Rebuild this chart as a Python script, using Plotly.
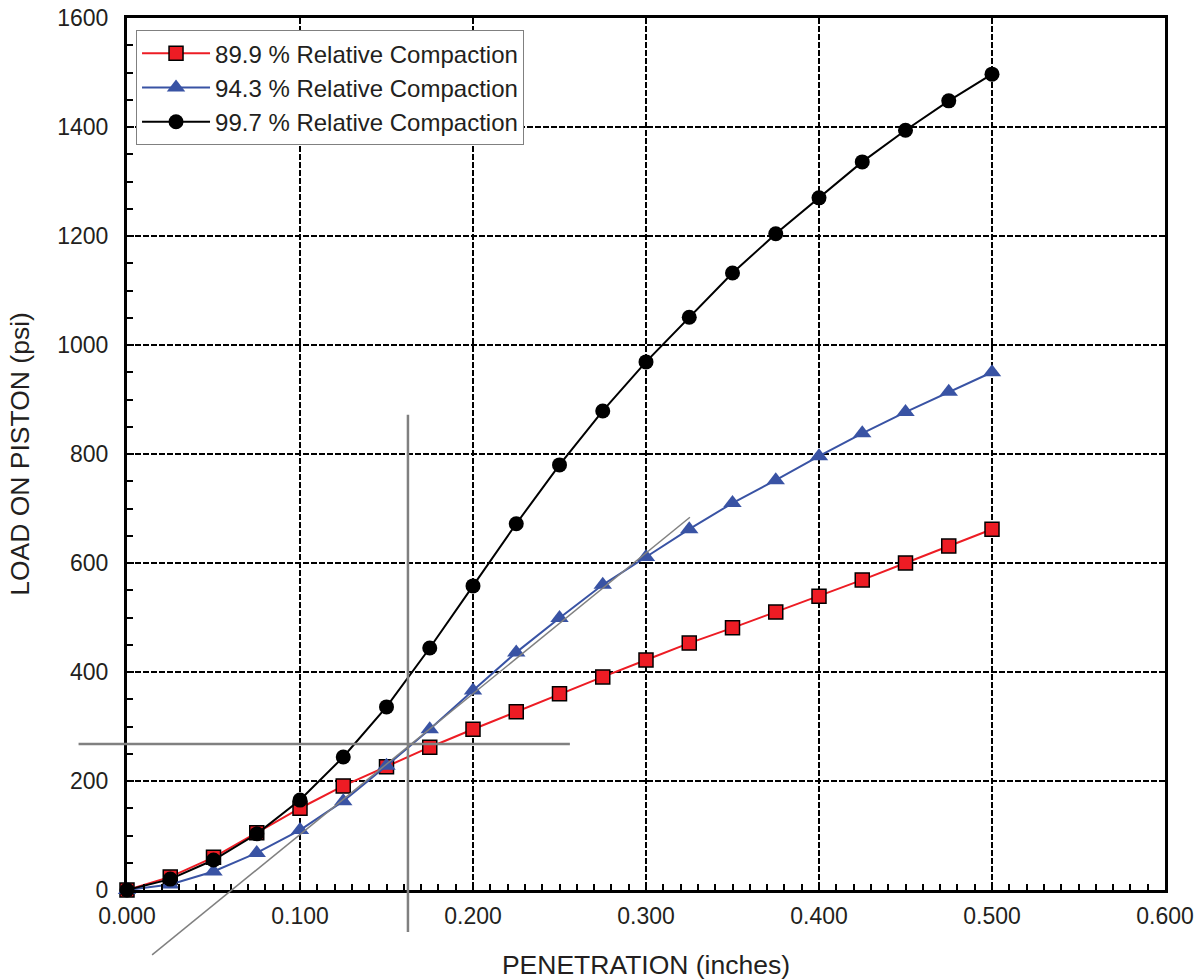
import plotly.graph_objects as go

penetration = [0.000, 0.025, 0.050, 0.075, 0.100, 0.125, 0.150, 0.175, 0.200, 0.225, 0.250,
               0.275, 0.300, 0.325, 0.350, 0.375, 0.400, 0.425, 0.450, 0.475, 0.500]
load_899 = [0, 24, 60, 105, 150, 191, 226, 262, 295, 327, 360,
            391, 422, 453, 481, 510, 539, 569, 600, 631, 662]
load_943 = [0, 10, 34, 68, 110, 163, 228, 295, 366, 436, 499,
            560, 611, 662, 710, 752, 796, 838, 877, 914, 950]
load_997 = [0, 20, 55, 103, 165, 244, 336, 444, 558, 672, 780,
            879, 969, 1051, 1132, 1204, 1270, 1336, 1394, 1448, 1497]

series_names = ["89.9 % Relative Compaction", "94.3 % Relative Compaction", "99.7 % Relative Compaction"]

x_ticks = [0.0, 0.1, 0.2, 0.3, 0.4, 0.5, 0.6]
x_tick_labels = ["0.000", "0.100", "0.200", "0.300", "0.400", "0.500", "0.600"]
y_ticks = [0, 200, 400, 600, 800, 1000, 1200, 1400, 1600]

# construction lines (data units)
vline_x = [0.1624, 0.1624]
vline_y = [872, -77]
hline_x = [-0.028, 0.256]
hline_y = [268, 268]
tangent_x = [0.0145, 0.3254]
tangent_y = [-119, 684]

X_RANGE = [0, 0.6]
Y_RANGE = [0, 1600]

def px(x):
    return (x - X_RANGE[0]) / (X_RANGE[1] - X_RANGE[0])

def py(y):
    return (y - Y_RANGE[0]) / (Y_RANGE[1] - Y_RANGE[0])

fig = go.Figure()
fig.add_trace(go.Scatter(x=penetration, y=load_899, name=series_names[0], mode="lines+markers",
                         line=dict(color="#ed1c24", width=2),
                         marker=dict(symbol="square", size=14, color="#ed1c24",
                                     line=dict(color="black", width=1.5)),
                         cliponaxis=False))
fig.add_trace(go.Scatter(x=penetration, y=load_943, name=series_names[1], mode="lines+markers",
                         line=dict(color="#3953a4", width=2),
                         marker=dict(symbol="triangle-up", size=16, color="#3953a4"),
                         cliponaxis=False))
fig.add_trace(go.Scatter(x=penetration, y=load_997, name=series_names[2], mode="lines+markers",
                         line=dict(color="black", width=2),
                         marker=dict(symbol="circle", size=15, color="black"),
                         cliponaxis=False))

gray = "#808080"
fig.add_shape(type="line", xref="paper", yref="paper",
              x0=px(vline_x[0]), y0=py(vline_y[0]), x1=px(vline_x[1]), y1=py(vline_y[1]),
              line=dict(color=gray, width=2.5))
fig.add_shape(type="line", xref="paper", yref="paper",
              x0=px(hline_x[0]), y0=py(hline_y[0]), x1=px(hline_x[1]), y1=py(hline_y[1]),
              line=dict(color=gray, width=2.5))
fig.add_shape(type="line", xref="paper", yref="paper",
              x0=px(tangent_x[0]), y0=py(tangent_y[0]), x1=px(tangent_x[1]), y1=py(tangent_y[1]),
              line=dict(color=gray, width=1.5))

font_family = "Liberation Sans, Arial, sans-serif"
fig.update_layout(
    width=1197, height=980,
    margin=dict(l=127, r=32, t=18, b=90),
    paper_bgcolor="white", plot_bgcolor="white",
    font=dict(family=font_family, size=23, color="#231f20"),
    showlegend=True,
    legend=dict(x=0.0087, y=0.986, xanchor="left", yanchor="top",
                bgcolor="white", bordercolor="#808080", borderwidth=1,
                font=dict(size=24, color="#231f20"), itemwidth=68,
                tracegroupgap=0),
    xaxis=dict(range=X_RANGE, tickvals=x_ticks, ticktext=x_tick_labels, automargin=False,
               showline=True, linecolor="black", linewidth=3, mirror=True,
               ticks="inside", ticklen=7, tickwidth=2, tickcolor="black",
               minor=dict(dtick=0.01, ticks="inside", ticklen=6, tickwidth=1.5, tickcolor="black", showgrid=False),
               showgrid=True, gridcolor="black", gridwidth=1.5, griddash="6px,2px",
               zeroline=False, ticklabelstandoff=3, ticklabeloverflow="allow",
               title=dict(text="PENETRATION (inches)", font=dict(size=26.5), standoff=29),
               tickfont=dict(size=23)),
    yaxis=dict(range=Y_RANGE, tickvals=y_ticks, automargin=False,
               showline=True, linecolor="black", linewidth=3, mirror=True,
               ticks="inside", ticklen=7, tickwidth=2, tickcolor="black",
               minor=dict(dtick=50, ticks="inside", ticklen=6, tickwidth=1.5, tickcolor="black", showgrid=False),
               showgrid=True, gridcolor="black", gridwidth=1.5, griddash="6px,2px",
               zeroline=False, ticklabelstandoff=11, ticklabeloverflow="allow",
               title=dict(text="LOAD ON PISTON (psi)", font=dict(size=26.5), standoff=20),
               tickfont=dict(size=23)),
)

fig.write_html("out.html", config={"displayModeBar": False},
               post_script="document.body.style.margin='0';")
